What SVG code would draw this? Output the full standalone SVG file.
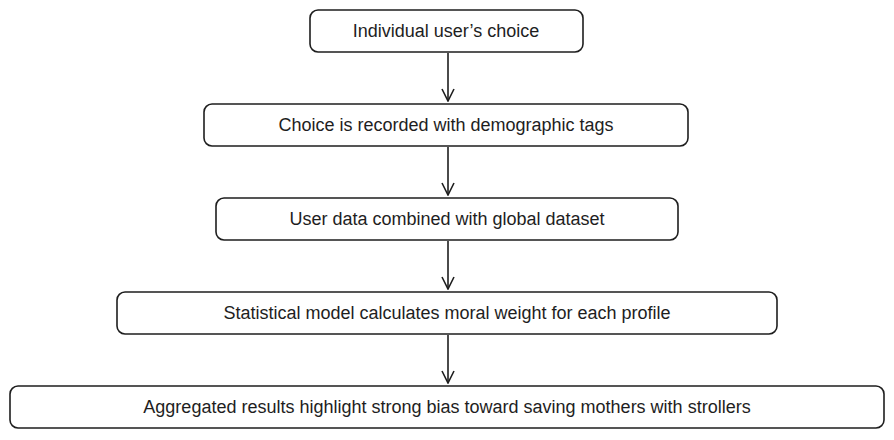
<svg xmlns="http://www.w3.org/2000/svg" width="894" height="440" viewBox="0 0 894 440">
<style>
.b{fill:#fff;stroke:#1e1e1e;stroke-width:1.6}
.t{font-family:"Liberation Sans",sans-serif;font-size:18px;fill:#1e1e1e;text-anchor:middle}
.c{stroke:#1e1e1e;stroke-width:1.6;fill:none}
</style>
<defs><marker id="a" markerWidth="14" markerHeight="14" refX="13" refY="7" orient="auto" markerUnits="userSpaceOnUse"><path d="M1,1 L13,7 L1,13" class="c"/></marker></defs>
<rect width="894" height="440" fill="#fff"/>
<g id="connectors">
<line class="c" x1="448" y1="53" x2="448" y2="101" marker-end="url(#a)"/>
<line class="c" x1="448" y1="147" x2="448" y2="195" marker-end="url(#a)"/>
<line class="c" x1="448" y1="241" x2="448" y2="289" marker-end="url(#a)"/>
<line class="c" x1="448" y1="335" x2="448" y2="383" marker-end="url(#a)"/>
</g>
<g id="n1"><rect class="b" x="310" y="10" width="273" height="42" rx="8"/><text class="t" x="446" y="37">Individual user’s choice</text></g>
<g id="n2"><rect class="b" x="204" y="104" width="484" height="42" rx="8"/><text class="t" x="446" y="131">Choice is recorded with demographic tags</text></g>
<g id="n3"><rect class="b" x="216" y="198" width="462" height="42" rx="8"/><text class="t" x="447" y="225">User data combined with global dataset</text></g>
<g id="n4"><rect class="b" x="117" y="292" width="660" height="42" rx="8"/><text class="t" x="447" y="319">Statistical model calculates moral weight for each profile</text></g>
<g id="n5"><rect class="b" x="10" y="386" width="874" height="42" rx="8"/><text class="t" x="447" y="413">Aggregated results highlight strong bias toward saving mothers with strollers</text></g>
</svg>
